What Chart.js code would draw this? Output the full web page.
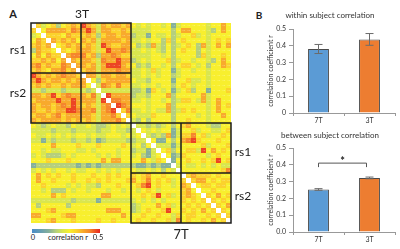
<!DOCTYPE html>
<html><head><meta charset="utf-8">
<script src="https://cdn.jsdelivr.net/npm/chart.js@4"></script>
<style>
body{margin:0;width:400px;height:249px;background:#fff;position:relative;overflow:hidden;font-family:Lato,'Open Sans',sans-serif;color:#222}
.t{position:absolute;white-space:nowrap;transform:translate(-50%,-50%);line-height:1}
.box{position:absolute}
</style></head><body>

<div class="box" style="left:27px;top:19px;width:208px;height:208px"><canvas id="heat"></canvas></div>
<div class="box" style="left:267px;top:0px;width:133px;height:127px"><canvas id="within"></canvas></div>
<div class="box" style="left:267px;top:125px;width:133px;height:124px"><canvas id="between"></canvas></div>

<div class="t" style="left:13px;top:13px;font-weight:bold;font-size:11px">A</div>
<div class="t" style="left:82px;top:14px;font-size:12px">3T</div>
<div class="t" style="left:18px;top:50px;font-size:12px">rs1</div>
<div class="t" style="left:18px;top:93px;font-size:12px">rs2</div>
<div class="t" style="left:243px;top:152px;font-size:12px">rs1</div>
<div class="t" style="left:243px;top:196px;font-size:12px">rs2</div>
<div class="t" style="left:181px;top:234px;font-size:13px">7T</div>
<div class="box" id="cbar" style="left:32px;top:229px;width:68px;height:4px"></div>
<div class="t" style="left:33px;top:238px;font-size:7.5px">0</div>
<div class="t" style="left:68px;top:238px;font-size:7.5px">correlation r</div>
<div class="t" style="left:98px;top:238px;font-size:7.5px">0.5</div>
<div class="t" style="left:259px;top:15px;font-weight:bold;font-size:10px">B</div>
<div class="t" style="left:330px;top:15px;font-size:8px;color:#333">within subject correlation</div>
<div class="t" style="left:330px;top:135px;font-size:8px;color:#333">between subject correlation</div>

<script>
// ---------- DATA ----------
const sessions = ['3T rs1', '3T rs2', '7T rs1', '7T rs2'];
const subjectsPerSession = 10;
// Lower triangle of the 40x40 correlation matrix, row i holds columns 0..i-1.
// Each digit d is the correlation bin: r = (d + 0.5) * 0.05
const corrRows = [
  "",
  "6",
  "45",
  "576",
  "6767",
  "37665",
  "575766",
  "6676757",
  "78676687",
  "676577867",
  "9767678776",
  "79767767677",
  "676766767775",
  "4434443444434",
  "77679678777684",
  "677779779777749",
  "7677678797676478",
  "76676779987784789",
  "677678677777647786",
  "7677776767676477786",
  "54345443544543345454",
  "444434443444434454434",
  "5445454545545445554545",
  "44243444344342344443344",
  "555575555655565555654535",
  "5545445554454555545534424",
  "45433345455554545455453245",
  "555655565555557577555575465",
  "2333333332323233333332232322",
  "45454554544554545455544545354",
  "575656556555655656556567556555",
  "5755655565565656555675685656456",
  "55655554545443555655568956554576",
  "554533354554555455455456545555675",
  "5555756555555577555555656956456765",
  "44444444344442444444454545455565656",
  "535555535555555555553455575645565656",
  "5556755555555557775534565569556565756",
  "77555567755555555575556556554656655656",
  "555675556555565565555655655648565565756"
];
const barCategories = ['7T', '3T'];
const withinMean = [0.381, 0.438];
const withinErr  = [0.027, 0.035];
const betweenMean = [0.253, 0.322];
const betweenErr  = [0.005, 0.005];
const withinTicks = ['0', '0.1', '0.2', '0.3', '0.4', '0.5'];
const betweenTicks = ['0.0', '0.1', '0.2', '0.3', '0.4', '0.5'];

// ---------- STYLE ----------
const cmapPos = [0, 0.125, 0.175, 0.225, 0.275, 0.325, 0.375, 0.425, 0.5];
const cmapCol = ['#4a8cc8', '#86b09a', '#b5cf7c', '#d9e64e', '#f8ef2e', '#fbd22c', '#f8aa2c', '#f5862c', '#e8251e'];
function hex(c){return [1,3,5].map(k=>parseInt(c.substr(k,2),16));}
function colorFor(v){
  if (v <= cmapPos[0]) return cmapCol[0];
  for (let k = 1; k < cmapPos.length; k++){
    if (v <= cmapPos[k]){
      const t = (v - cmapPos[k-1])/(cmapPos[k]-cmapPos[k-1]);
      const a = hex(cmapCol[k-1]), b = hex(cmapCol[k]);
      return 'rgb(' + a.map((x,i)=>Math.round(x+(b[i]-x)*t)).join(',') + ')';
    }
  }
  return cmapCol[cmapCol.length-1];
}
document.getElementById('cbar').style.background =
  'linear-gradient(to right,' + cmapCol.map((c,i)=>c+' '+(cmapPos[i]/0.5*100)+'%').join(',') + ')';

const labels40 = [];
sessions.forEach(s => { for (let k = 1; k <= subjectsPerSession; k++) labels40.push(s + ' S' + k); });
const N = labels40.length;
function corrValue(i, j){
  if (i === j) return null;
  const a = Math.max(i, j), b = Math.min(i, j);
  return (Number(corrRows[a][b]) + 0.5) * 0.05;
}
const cells = [];
for (let i = 0; i < N; i++) for (let j = 0; j < N; j++){
  const v = corrValue(i, j);
  if (v !== null) cells.push({x: j, y: i, v: v});
}

const boxPlugin = {
  id: 'boxes',
  afterDatasetsDraw(chart){
    const {ctx, scales:{x, y}} = chart;
    const px = k => x.getPixelForValue(k - 0.5), py = k => y.getPixelForValue(k - 0.5);
    ctx.save();
    // faint value text inside each cell, as in the source spreadsheet
    ctx.fillStyle = 'rgba(255,255,255,0.35)';
    ctx.font = '2.6px Lato, sans-serif';
    ctx.textAlign = 'center'; ctx.textBaseline = 'middle';
    cells.forEach(c => ctx.fillText(c.v.toFixed(2).slice(1), x.getPixelForValue(c.x), y.getPixelForValue(c.y)));
    ctx.strokeStyle = '#1c1c1c'; ctx.lineWidth = 1.5;
    [[0, 20, 10], [20, 40, 30]].forEach(([a, b, m]) => {
      ctx.strokeRect(px(a), py(a), px(b) - px(a), py(b) - py(a));
      ctx.beginPath();
      ctx.moveTo(px(m), py(a)); ctx.lineTo(px(m), py(b));
      ctx.moveTo(px(a), py(m)); ctx.lineTo(px(b), py(m));
      ctx.stroke();
    });
    ctx.restore();
  }
};

new Chart(document.getElementById('heat'), {
  type: 'scatter',
  data: { datasets: [{
    data: cells,
    pointStyle: 'rect',
    borderWidth: 0,
    radius: ctx => { const a = ctx.chart.chartArea; return a ? (a.width / N) / Math.SQRT2 : 3.5; },
    backgroundColor: ctx => ctx.raw ? colorFor(ctx.raw.v) : '#fff'
  }]},
  options: {
    responsive: true, maintainAspectRatio: false, animation: false, events: [],
    layout: { padding: 4 },
    plugins: { legend: {display: false}, tooltip: {enabled: false} },
    scales: {
      x: { type: 'linear', min: -0.5, max: N - 0.5, display: false },
      y: { type: 'linear', min: -0.5, max: N - 0.5, reverse: true, display: false }
    }
  },
  plugins: [boxPlugin]
});

const errorBarPlugin = {
  id: 'errbars',
  afterDatasetsDraw(chart, args, opts){
    const {ctx, scales:{y}} = chart;
    const meta = chart.getDatasetMeta(0);
    const vals = chart.data.datasets[0].data;
    ctx.save(); ctx.strokeStyle = '#6b6b6b'; ctx.lineWidth = 1;
    meta.data.forEach((bar, i) => {
      const top = y.getPixelForValue(vals[i] + opts.errors[i]);
      const bot = y.getPixelForValue(vals[i] - opts.errors[i]);
      ctx.beginPath();
      ctx.moveTo(bar.x, top); ctx.lineTo(bar.x, bot);
      ctx.moveTo(bar.x - 4, top); ctx.lineTo(bar.x + 4, top);
      ctx.moveTo(bar.x - 4, bot); ctx.lineTo(bar.x + 4, bot);
      ctx.stroke();
    });
    if (opts.bracket){
      const b0 = meta.data[0].x, b1 = meta.data[1].x - 3;
      const yt = y.getPixelForValue(opts.bracket), yl = yt + 4;
      ctx.strokeStyle = '#555';
      ctx.beginPath(); ctx.moveTo(b0, yl); ctx.lineTo(b0, yt); ctx.lineTo(b1, yt); ctx.lineTo(b1, yl); ctx.stroke();
      ctx.fillStyle = '#222'; ctx.font = 'bold 11px Lato, sans-serif';
      ctx.textAlign = 'center'; ctx.textBaseline = 'middle';
      ctx.fillText('*', (b0 + b1) / 2, yt - 2);
    }
    ctx.restore();
  }
};

function barChart(id, means, errs, tickLabels, padTop, xH, bracket){
  return new Chart(document.getElementById(id), {
    type: 'bar',
    data: { labels: barCategories, datasets: [{
      data: means,
      backgroundColor: ['#5b9bd5', '#ed7d31'],
      borderColor: '#4a4a4a', borderWidth: 1,
      categoryPercentage: 0.82, barPercentage: 0.5
    }]},
    options: {
      responsive: true, maintainAspectRatio: false, animation: false, events: [],
      layout: { padding: { top: padTop, right: 5, left: 0, bottom: 0 } },
      plugins: { legend: {display: false}, tooltip: {enabled: false},
                 errbars: { errors: errs, bracket: bracket } },
      scales: {
        x: {
          grid: { display: true, drawOnChartArea: false, tickLength: 3, color: '#999', offset: true },
          border: { display: true, color: '#999' },
          ticks: { color: '#333', font: { size: 7, family: 'Lato' }, padding: 1 },
          afterFit: s => { s.height = xH; }
        },
        y: {
          min: 0, max: 0.5,
          grid: { display: true, drawOnChartArea: false, tickLength: 4, color: '#999' },
          border: { display: true, color: '#999' },
          ticks: { stepSize: 0.1, color: '#333', font: { size: 7, family: 'Lato' }, padding: 3,
                   callback: (v, i) => tickLabels[i] },
          title: { display: true, text: 'correlation coefficient r', color: '#333',
                   font: { size: 7, family: 'Lato' }, padding: 0 },
          afterFit: s => { s.width = 26; }
        }
      }
    },
    plugins: [errorBarPlugin]
  });
}
barChart('within', withinMean, withinErr, withinTicks, 29, 14, null);
barChart('between', betweenMean, betweenErr, betweenTicks, 23, 17, 0.41);
</script>
</body></html>
